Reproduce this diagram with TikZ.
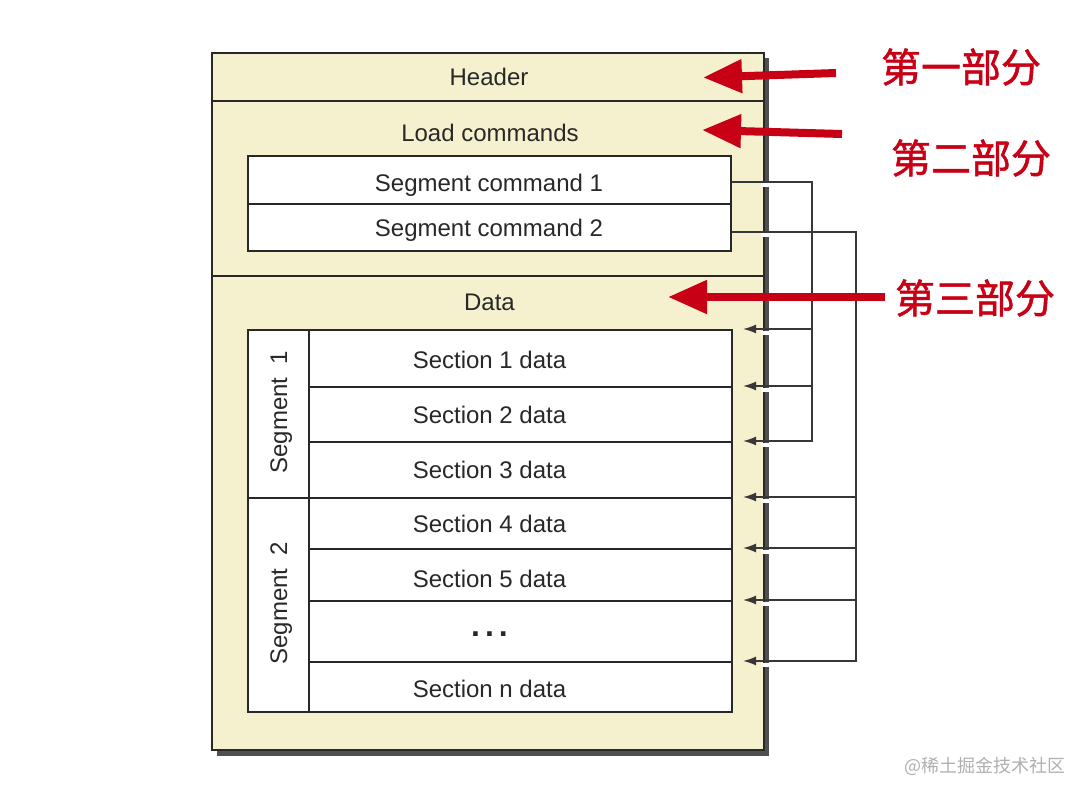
\documentclass[tikz,border=0pt]{standalone}
\usepackage{fontspec}
\setmainfont{Liberation Sans}
\newfontfamily\cjk{Noto Sans CJK SC}
\newfontfamily\cjkb[FakeBold=1.3]{Noto Sans CJK SC}
\usetikzlibrary{arrows.meta,calc}
\definecolor{beige}{RGB}{245,241,207}
\definecolor{ink}{RGB}{40,40,40}
\definecolor{redarr}{RGB}{200,0,22}
\definecolor{shadowgray}{RGB}{80,80,80}
\definecolor{connc}{RGB}{55,55,55}
\definecolor{wmgray}{RGB}{175,175,175}
\tikzset{
  region/.style={draw=ink, line width=2pt, fill=beige, inner sep=0pt, minimum width=552pt},
  box/.style={draw=ink, line width=2pt, fill=white, inner sep=0pt},
  lbl/.style={text=ink, inner sep=0pt, font=\fontsize{24}{26}\selectfont, text height=21pt, text depth=5pt},
  conn/.style={draw=connc, line width=1.6pt},
  connarr/.style={conn, -{Latex[length=13pt,width=9pt]}},
  redarrow/.style={draw=redarr, line width=8pt, -{Triangle[length=39pt,width=32pt]}},
  cjklabel/.style={text=redarr, inner sep=0pt, font=\cjkb\fontsize{40}{44}\selectfont},
}
\begin{document}
\begin{tikzpicture}[x=1pt,y=-1pt]
\useasboundingbox (0,0) rectangle (1088,798);
% shadow
\fill[shadowgray] (217,58) rectangle (769,756);
% three parts
\node[region, minimum height=48pt] (header) at (488,77) {};
\node[region, minimum height=175pt] (load) at (488,188.5) {};
\node[region, minimum height=474pt] (data) at (488,513) {};
\node[lbl] (headertxt) at (489,77) {Header};
\node[lbl] (loadtxt) at (490,133) {Load commands};
\node[lbl] (datatxt) at (489.5,302) {Data};
% segment commands
\node[box, minimum width=483pt, minimum height=48pt] (sc1) at (489.5,180) {};
\node[box, minimum width=483pt, minimum height=47pt] (sc2) at (489.5,227.5) {};
\node[lbl] (sc1txt) at (489,183) {Segment command 1};
\node[lbl] (sc2txt) at (489,228) {Segment command 2};
% sections
\node[box, minimum width=423pt, minimum height=57pt] (s1) at (520.5,358.5) {};
\node[box, minimum width=423pt, minimum height=55pt] (s2) at (520.5,414.5) {};
\node[box, minimum width=423pt, minimum height=56pt] (s3) at (520.5,470) {};
\node[box, minimum width=423pt, minimum height=51pt] (s4) at (520.5,523.5) {};
\node[box, minimum width=423pt, minimum height=52pt] (s5) at (520.5,575) {};
\node[box, minimum width=423pt, minimum height=61pt] (s6) at (520.5,631.5) {};
\node[box, minimum width=423pt, minimum height=50pt] (sn) at (520.5,687) {};
\node[box, minimum width=61pt, minimum height=168pt] (seg1) at (278.5,414) {};
\node[box, minimum width=61pt, minimum height=214pt] (seg2) at (278.5,605) {};
\node[lbl, rotate=90] (seg1txt) at (279,412) {Segment\ \ 1};
\node[lbl, rotate=90] (seg2txt) at (279,603) {Segment\ \ 2};
\node[lbl] (t1) at (489.5,360) {Section 1 data};
\node[lbl] (t2) at (489.5,415) {Section 2 data};
\node[lbl] (t3) at (489.5,470) {Section 3 data};
\node[lbl] (t4) at (489.5,524) {Section 4 data};
\node[lbl] (t5) at (489.5,579) {Section 5 data};
\node[text=ink, inner sep=0pt, font=\fontsize{32}{34}\selectfont\bfseries, anchor=base] (t6) at (489.5,636) {.\hspace{5pt}.\hspace{5pt}.};
\node[lbl] (tn) at (489.5,689) {Section n data};
% gaps in the right border below the crossing lines
\foreach \yy in {182,232,330,387,442,498,549,601,662}
  \fill[white] (761,\yy+1.2) rectangle (771,\yy+5);
% connectors
\coordinate (b1) at (812,0);
\coordinate (b2) at (856,0);
\draw[connarr] ([yshift=-2pt]sc1.east) -| (b1 |- s3.north east) -- ([xshift=10pt]s3.north east);
\foreach \r in {s1,s2}
  \draw[connarr] (b1 |- \r.north east) -- ([xshift=10pt]\r.north east);
\draw[connarr] ([yshift=-4.5pt]sc2.east) -| (b2 |- sn.north east) -- ([xshift=10pt]sn.north east);
\foreach \r in {s4,s5,s6}
  \draw[connarr] (b2 |- \r.north east) -- ([xshift=10pt]\r.north east);
% red labels and arrows
\node[cjklabel] (p1) at (961,67) {第一部分};
\node[cjklabel] (p2) at (971,158) {第二部分};
\node[cjklabel] (p3) at (975,298) {第三部分};
\coordinate (a1s) at (836,73);   \coordinate (a1e) at (703,77.5);
\coordinate (a2s) at (842,134);  \coordinate (a2e) at (702,130);
\coordinate (a3s) at (885,297);  \coordinate (a3e) at (668,297);
\draw[redarrow] (a1s) -- (a1e);
\draw[redarrow] (a2s) -- (a2e);
\draw[redarrow] (a3s) -- (a3e);
% watermark
\node[text=wmgray, inner sep=0pt, font=\cjk\fontsize{18}{20}\selectfont] (wm) at (985,766) {@稀土掘金技术社区};
\end{tikzpicture}
\end{document}
